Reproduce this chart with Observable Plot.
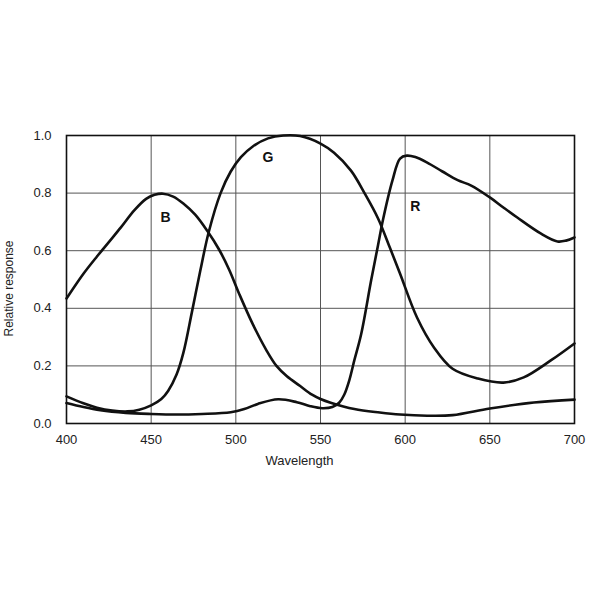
<!DOCTYPE html>
<html>
<head>
<meta charset="utf-8">
<script src="https://cdn.jsdelivr.net/npm/d3@7"></script>
<script src="https://cdn.jsdelivr.net/npm/@observablehq/plot@0.6"></script>
<style>
  html, body { margin: 0; padding: 0; background: #fff; }
  #chart { width: 600px; height: 600px; }
</style>
</head>
<body>
<div id="chart"></div>
<script>
// Blue (B) response curve
const bWavelength = [400,410,418,425,432,440,447,452,457,463,469,476,483,490,496,502,510,518,524,530,538,545,550,556,570,585,597,613,628,650,676,700];
const bResponse  = [0.434,0.52,0.58,0.63,0.68,0.74,0.78,0.794,0.798,0.788,0.764,0.725,0.67,0.605,0.535,0.45,0.345,0.255,0.20,0.165,0.13,0.10,0.085,0.072,0.05,0.038,0.031,0.027,0.029,0.052,0.073,0.083];

// Green (G) response curve
const gWavelength = [400,410,418,427,436,443,450,456,460,465,469,474,479,484,491,497,503,510,519,528,538,550,558,568,576,584,591,597,607,617,628,643,658,670,686,700];
const gResponse  = [0.094,0.07,0.055,0.045,0.042,0.048,0.063,0.085,0.113,0.17,0.245,0.385,0.53,0.665,0.80,0.875,0.925,0.962,0.99,1.0,0.998,0.972,0.94,0.878,0.80,0.712,0.61,0.52,0.368,0.264,0.19,0.156,0.142,0.16,0.219,0.278];

// Red (R) response curve
const rWavelength = [400,410,420,435,450,465,480,497,505,513,525,536,544,551,557,561,564,567,570,574,580,584,587,592.5,597,601,606,613,622,631,639,650,658,666,680,690,695,700];
const rResponse  = [0.071,0.057,0.046,0.037,0.033,0.031,0.033,0.039,0.05,0.068,0.084,0.074,0.06,0.053,0.057,0.072,0.10,0.15,0.22,0.31,0.50,0.62,0.71,0.844,0.92,0.93,0.925,0.906,0.875,0.845,0.826,0.785,0.75,0.716,0.66,0.632,0.635,0.646];

// Curve labels
const labelNames = ["B", "G", "R"];
const labelX = [458.5, 519, 606];
const labelY = [0.715, 0.924, 0.753];

// Axis ticks and titles
const xTicks = [400, 450, 500, 550, 600, 650, 700];
const yTicks = [0.0, 0.2, 0.4, 0.6, 0.8, 1.0];
const xTitle = ["Wavelength"];
const yTitle = ["Relative response"];

const series = [
  {name: "B", wl: bWavelength, v: bResponse},
  {name: "G", wl: gWavelength, v: gResponse},
  {name: "R", wl: rWavelength, v: rResponse}
];
const rows = series.flatMap(s => s.wl.map((w, i) => ({series: s.name, wl: w, v: s.v[i]})));
const labels = labelNames.map((n, i) => ({name: n, x: labelX[i], y: labelY[i]}));

const chart = Plot.plot({
  width: 600,
  height: 600,
  marginLeft: 66,
  marginRight: 26,
  marginTop: 135,
  marginBottom: 177,
  style: {fontFamily: "'Liberation Sans', Arial, sans-serif", fontSize: "13px", color: "#222", background: "#fff"},
  x: {domain: [400, 700]},
  y: {domain: [0, 1]},
  marks: [
    Plot.gridX(xTicks, {stroke: "#555", strokeOpacity: 1, strokeWidth: 1}),
    Plot.gridY(yTicks, {stroke: "#555", strokeOpacity: 1, strokeWidth: 1}),
    Plot.axisX(xTicks, {tickSize: 0, tickPadding: 11, label: null, fontSize: 13}),
    Plot.axisY(yTicks, {tickSize: 0, tickPadding: 15, tickFormat: d3.format(".1f"), label: null, fontSize: 13}),
    Plot.text(xTitle, {frameAnchor: "bottom", textAnchor: "middle", dx: -21, dy: 41, fontSize: 13, fill: "#222"}),
    Plot.text(yTitle, {frameAnchor: "left", textAnchor: "middle", rotate: -90, dx: -57, dy: 9, fontSize: 12, fill: "#222"}),
    Plot.line(rows, {x: "wl", y: "v", z: "series", stroke: "#111", strokeWidth: 2.6, curve: "catmull-rom"}),
    Plot.text(labels, {x: "x", y: "y", text: "name", fontWeight: "bold", fontSize: 14, fill: "#111"}),
    Plot.frame({stroke: "#111", strokeWidth: 1.6})
  ]
});
document.getElementById("chart").appendChild(chart);
</script>
</body>
</html>
